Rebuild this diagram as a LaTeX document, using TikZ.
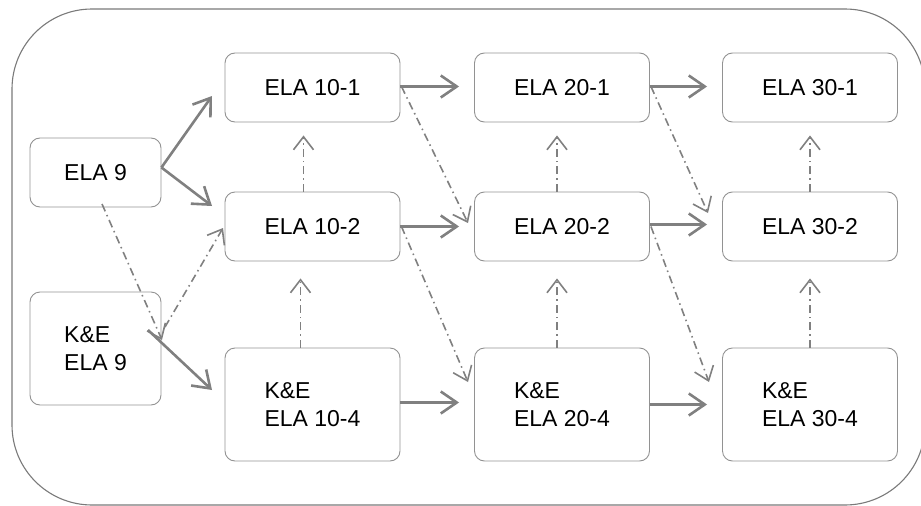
\documentclass[tikz,border=0pt]{standalone}
\usepackage{fontspec}
\setmainfont{Liberation Sans}
\usetikzlibrary{arrows.meta,calc}
\definecolor{boxgray}{HTML}{929292}
\definecolor{arrgray}{HTML}{808080}
\definecolor{framegray}{HTML}{7A7A7A}
\newcommand\lblfont{\fontsize{23}{28}\selectfont}
\tikzset{
  box/.style={draw=boxgray, line width=0.9pt, rounded corners=10pt, minimum width=175pt, minimum height=69pt, inner sep=0pt, font=\lblfont, align=left, text=black},
  smallbox/.style={box, minimum width=131pt},
  tallbox/.style={minimum height=113pt},
  solidarr/.style={draw=arrgray, line width=2.6pt, -{Straight Barb[length=16pt,width=22pt]}},
  dasharr/.style={draw=arrgray, line width=1.6pt, dash pattern=on 8pt off 4pt on 1.5pt off 4pt, -{Straight Barb[length=13pt,width=20pt]}}
}
\begin{document}
\begin{tikzpicture}[x=1pt,y=-1pt]
\useasboundingbox (0,0) rectangle (921,506);
\draw[draw=framegray, line width=1.1pt, rounded corners=80pt] (12,9) rectangle (925,505);

\node[smallbox] (e9) at (95.5,172.5) {ELA 9};
\node[smallbox,tallbox] (ke9) at (95.5,348.5) {K\&E\\ELA 9};
\node[box] (e101) at (312.5,87.5) {ELA 10-1};
\node[box] (e102) at (312.5,226.5) {ELA 10-2};
\node[box,tallbox] (e104) at (312.5,404.5) {K\&E\\ELA 10-4};
\node[box] (e201) at (562,87.5) {ELA 20-1};
\node[box] (e202) at (562,226.5) {ELA 20-2};
\node[box,tallbox] (e204) at (562,404.5) {K\&E\\ELA 20-4};
\node[box] (e301) at (810,87.5) {ELA 30-1};
\node[box] (e302) at (810,226.5) {ELA 30-2};
\node[box,tallbox] (e304) at (810,404.5) {K\&E\\ELA 30-4};

% free ends
\coordinate (a1) at (212,96);
\coordinate (a2) at (212,206);
\coordinate (s3) at (148,330);
\coordinate (a3) at (212,390);
\coordinate (s4) at (102,204);
\coordinate (a4) at (162,340);
\coordinate (s5) at (165,327);
\coordinate (a5) at (223,228);
\coordinate (d1) at (468,223);
\coordinate (d2) at (468,382);
\coordinate (d3) at (708,213);
\coordinate (d4) at (709,382);

% solid arrows
\draw[solidarr] ($(e9.east)+(0,-5)$) -- (a1);
\draw[solidarr] ($(e9.east)+(0,-5)$) -- (a2);
\draw[solidarr] (s3) -- (a3);
\draw[solidarr, shorten >=15pt] ($(e101.east)+(0,-1)$) -- ($(e201.west)+(0,-1)$);
\draw[solidarr, shorten >=15pt] (e102.east) -- (e202.west);
\draw[solidarr, shorten >=15pt] ($(e104.east)+(0,-2)$) -- ($(e204.west)+(0,-2)$);
\draw[solidarr, shorten >=15pt] ($(e201.east)+(0,-1)$) -- ($(e301.west)+(0,-1)$);
\draw[solidarr, shorten >=15pt] ($(e202.east)+(0,-2)$) -- ($(e302.west)+(0,-2)$);
\draw[solidarr, shorten >=15pt] (e204.east) -- (e304.west);

% dash-dot arrows
\draw[dasharr] (s4) -- (a4);
\draw[dasharr] (s5) -- (a5);
\draw[dasharr] ($(e102.north)+(-9,0)$) -- ($(e101.south)+(-9,13)$);
\draw[dasharr] ($(e104.north)+(-12,0)$) -- ($(e102.south)+(-12,17)$);
\draw[dasharr] ($(e202.north)+(-5,0)$) -- ($(e201.south)+(-5,13)$);
\draw[dasharr] ($(e204.north)+(-5,0)$) -- ($(e202.south)+(-5,17)$);
\draw[dasharr] (e302.north) -- ($(e301.south)+(0,13)$);
\draw[dasharr] (e304.north) -- ($(e302.south)+(0,17)$);
\draw[dasharr] ($(e101.east)+(1,-1)$) -- (d1);
\draw[dasharr] ($(e102.east)+(1,0)$) -- (d2);
\draw[dasharr] ($(e201.east)+(1,-1)$) -- (d3);
\draw[dasharr] ($(e202.east)+(1,0)$) -- (d4);
\end{tikzpicture}
\end{document}
